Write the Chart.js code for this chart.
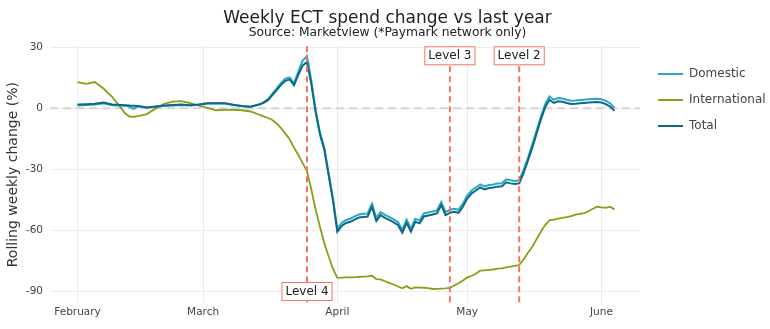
<!DOCTYPE html>
<html>
<head>
<meta charset="utf-8">
<script src="https://cdn.jsdelivr.net/npm/chart.js@4"></script>
<style>
  html, body { margin: 0; padding: 0; background: #fff; }
  #wrap { width: 770px; height: 329px; }
</style>
</head>
<body>
<div id="wrap"><canvas id="chart"></canvas></div>
<script>
// days since 1 Feb 2020
const days = [0,2,4,6,8,10,11,12,13,14,16,18,20,22,24,26,28,30,32,34,36,38,40,
  42,43,44,45,46,47,48,49,50,51,52,53,54,55,56,57,58,59,
  60,61,62,63,64,65,66,67,68,69,70,71,72,73,74,75,76,77,78,79,80,81,82,83,84,85,86,87,88,89,
  90,91,92,93,94,95,96,97,98,99,100,101,102,103,104,105,106,107,108,109,110,111,112,113,114,
  115,116,117,118,119,120,121,122,123,124];

const domestic = [1.4,1.6,1.9,2.5,1.5,1.3,1.2,0.8,-0.3,1.0,0.2,0.7,1.1,1.4,1.6,1.4,1.7,2.3,2.4,2.3,1.6,1.0,0.7,
  2.0,3.0,4.5,7.2,9.8,12.5,14.6,15.2,12.3,18.0,23.5,25.7,13.5,-1.0,-12.0,-19.5,-32.0,-44.5,
  -59.5,-56.5,-55.0,-54.4,-53.3,-52.3,-52.0,-51.8,-47.0,-54.0,-51.1,-52.5,-53.5,-54.7,-56.0,-59.8,-54.9,-59.3,-54.4,-55.2,
  -51.8,-51.3,-50.8,-50.3,-46.2,-51.1,-50.0,-49.5,-50.0,-47.0,
  -43.0,-40.5,-39.0,-37.5,-38.5,-37.8,-37.5,-37.1,-36.9,-35.0,-35.5,-35.8,-35.5,-30.5,-24.5,-18.0,-11.1,-4.2,2.0,5.8,
  4.2,5.0,4.8,4.2,3.7,3.8,4.0,4.2,4.4,4.6,4.7,4.4,3.6,2.4,0.2];

const international = [12.9,12.0,12.9,9.7,5.6,0.3,-2.5,-4.1,-4.2,-3.9,-2.9,-0.2,2.2,3.3,3.5,2.5,1.3,0.2,-1.0,-0.8,-0.8,-1.0,-1.6,
  -3.2,-4.0,-4.8,-5.8,-7.5,-9.8,-12.5,-15.3,-19.5,-23.0,-27.0,-31.0,-40.0,-50.0,-58.5,-66.5,-73.0,-79.0,
  -83.5,-83.4,-83.3,-83.3,-83.2,-83.0,-82.9,-82.8,-82.5,-84.1,-84.3,-85.2,-86.0,-86.8,-87.8,-88.7,-87.6,-88.9,-88.2,-88.3,
  -88.4,-88.6,-89.0,-88.9,-88.8,-88.7,-88.5,-87.3,-86.2,-84.8,
  -83.3,-82.6,-81.5,-80.0,-79.8,-79.6,-79.4,-79.0,-78.8,-78.4,-78.0,-77.6,-77.2,-74.5,-71.3,-68.3,-64.5,-60.8,-57.5,-55.2,
  -54.8,-54.4,-54.0,-53.6,-53.1,-52.4,-52.0,-51.6,-50.7,-49.5,-48.5,-48.8,-49.0,-48.5,-49.8];

const total = [1.8,2.0,2.2,2.8,1.8,1.6,1.5,1.3,1.2,1.1,0.4,0.9,1.3,1.6,1.8,1.5,1.8,2.4,2.5,2.4,1.7,1.1,0.7,
  1.8,2.6,4.0,6.5,8.9,11.5,13.5,14.2,11.3,16.5,21.0,22.8,12.0,-2.0,-13.0,-20.5,-33.0,-45.5,
  -60.8,-58.0,-56.5,-55.9,-54.8,-53.8,-53.5,-53.3,-48.5,-55.5,-52.6,-54.0,-55.0,-56.2,-57.5,-61.3,-56.4,-60.8,-55.9,-56.7,
  -53.3,-52.8,-52.3,-51.8,-47.7,-52.6,-51.5,-51.0,-51.5,-48.5,
  -44.5,-42.0,-40.5,-39.0,-40.0,-39.3,-39.0,-38.6,-38.4,-36.5,-37.0,-37.3,-37.0,-32.0,-26.0,-19.5,-12.6,-5.7,0.5,4.2,
  2.6,3.4,3.2,2.6,2.1,2.2,2.4,2.6,2.8,3.0,3.1,2.8,2.0,0.8,-1.3];

const monthDays   = [0, 29, 60, 90, 121];
const monthLabels = ['February', 'March', 'April', 'May', 'June'];
const yTicks      = [-90, -60, -30, 0, 30];

const levelDays   = [53, 86, 102];
const levelNames  = ['Level 4', 'Level 3', 'Level 2'];
const levelSide   = ['bottom', 'top', 'top'];

const seriesNames  = ['Domestic', 'International', 'Total'];
const seriesColors = ['#2ba6c9', '#8a9e17', '#0e6982'];

const FONT = 'DejaVu Sans';
Chart.defaults.font.family = FONT;
Chart.defaults.color = '#444';

const toPoints = vals => days.map((d, i) => ({ x: d, y: vals[i] }));

const markers = {
  id: 'markers',
  beforeDatasetsDraw(chart) {
    const { ctx, chartArea: a, scales: { y } } = chart;
    const y0 = y.getPixelForValue(0);
    ctx.save();
    ctx.strokeStyle = '#d3d3d3';
    ctx.lineWidth = 2;
    ctx.setLineDash([8, 5]);
    ctx.beginPath();
    ctx.moveTo(a.left, y0);
    ctx.lineTo(a.right, y0);
    ctx.stroke();
    ctx.restore();
  },
  afterDatasetsDraw(chart) {
    const { ctx, chartArea: a, scales: { x } } = chart;
    ctx.save();
    levelDays.forEach((d, i) => {
      const px = x.getPixelForValue(d);
      ctx.strokeStyle = '#f7735f';
      ctx.lineWidth = 2;
      ctx.setLineDash([6, 4]);
      ctx.beginPath();
      ctx.moveTo(px, a.top);
      ctx.lineTo(px, a.bottom);
      ctx.stroke();

      ctx.setLineDash([]);
      ctx.font = '12px ' + FONT;
      const w = ctx.measureText(levelNames[i]).width + 8;
      const h = 19;
      const top = levelSide[i] === 'top' ? a.top : a.bottom - h - 2;
      ctx.fillStyle = '#fff';
      ctx.fillRect(px - w / 2, top, w, h);
      ctx.strokeStyle = '#f7735f';
      ctx.lineWidth = 1;
      ctx.strokeRect(px - w / 2 + 0.5, top + 0.5, w - 1, h - 1);
      ctx.fillStyle = '#222';
      ctx.textAlign = 'center';
      ctx.textBaseline = 'middle';
      ctx.fillText(levelNames[i], px, top + h / 2 + 0.5);
    });
    ctx.restore();
  },
  afterDraw(chart) {
    const { ctx, chartArea: a } = chart;
    ctx.save();
    ctx.font = '12px ' + FONT;
    ctx.textBaseline = 'middle';
    seriesNames.forEach((name, i) => {
      const ly = 74 + i * 26;
      ctx.strokeStyle = seriesColors[i];
      ctx.lineWidth = 2;
      ctx.beginPath();
      ctx.moveTo(a.right + 18, ly);
      ctx.lineTo(a.right + 43, ly);
      ctx.stroke();
      ctx.fillStyle = '#444';
      ctx.fillText(name, a.right + 49, ly);
    });
    ctx.restore();
  }
};

new Chart(document.getElementById('chart'), {
  type: 'line',
  data: {
    datasets: [
      { label: seriesNames[0], data: toPoints(domestic), borderColor: seriesColors[0], borderWidth: 2, order: 2 },
      { label: seriesNames[1], data: toPoints(international), borderColor: seriesColors[1], borderWidth: 1.8, order: 3 },
      { label: seriesNames[2], data: toPoints(total), borderColor: seriesColors[2], borderWidth: 2, order: 1 }
    ]
  },
  options: {
    responsive: true,
    maintainAspectRatio: false,
    animation: false,
    elements: { point: { radius: 0 }, line: { tension: 0 } },
    layout: { padding: { left: 5, right: 0, top: 0, bottom: 0 } },
    plugins: {
      legend: { display: false },
      tooltip: { enabled: false },
      title: {
        display: true,
        text: 'Weekly ECT spend change vs last year',
        color: '#222',
        font: { size: 17, weight: 'normal', lineHeight: 1 },
        padding: { top: 10, bottom: 0 }
      },
      subtitle: {
        display: true,
        text: 'Source: Marketview (*Paymark network only)',
        color: '#222',
        font: { size: 12.3, lineHeight: 1 },
        padding: { top: 0, bottom: 7 }
      }
    },
    scales: {
      x: {
        type: 'linear',
        min: -6.35,
        max: 129.9,
        afterBuildTicks: s => { s.ticks = monthDays.map(v => ({ value: v })); },
        afterFit: s => { s.height = 26; },
        ticks: {
          autoSkip: false,
          maxRotation: 0,
          padding: 3,
          font: { size: 10.5 },
          callback: (v, i) => monthLabels[i]
        },
        grid: { color: '#ececec', drawTicks: false },
        border: { display: false }
      },
      y: {
        min: -95.9,
        max: 30.5,
        afterBuildTicks: s => { s.ticks = yTicks.map(v => ({ value: v })); },
        afterFit: s => { s.width = 45; },
        ticks: { padding: 7, font: { size: 10.5 } },
        grid: { color: '#ececec', drawTicks: false },
        border: { display: false },
        title: {
          display: true,
          text: 'Rolling weekly change (%)',
          color: '#333',
          font: { size: 14, lineHeight: 1.2 },
          padding: { top: 0, bottom: 0 }
        }
      },
      // empty right-hand axis that reserves room for the legend
      yRight: {
        position: 'right',
        min: -95.9,
        max: 30.5,
        afterFit: s => { s.width = 130; },
        ticks: { display: false },
        grid: { display: false },
        border: { display: false }
      }
    }
  },
  plugins: [markers]
});
</script>
</body>
</html>
